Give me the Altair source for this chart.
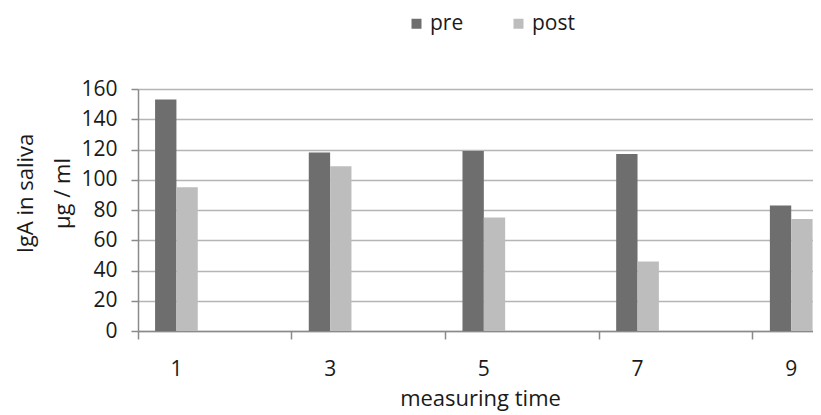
import altair as alt
import pandas as pd

# ---- data ----
times = ["1", "3", "5", "7", "9"]
pre = [153, 118, 119, 117, 83]
post = [95, 109, 75, 46, 74]
all_times = ["1", "2", "3", "4", "5", "6", "7", "8", "9"]   # even time points carry no bars
series = ["pre", "post"]
colors = ["#6e6e6e", "#bdbdbd"]
y_ticks = [0, 20, 40, 60, 80, 100, 120, 140, 160]
y_title = ["IgA in saliva", "µg / ml"]
x_title = "measuring time"

rows = []
for t, a, b in zip(times, pre, post):
    rows.append({"time": t, "series": "pre", "value": a})
    rows.append({"time": t, "series": "post", "value": b})
df = pd.DataFrame(rows)

FONT = "Open Sans"
TXT = "#1a1a1a"
band = 76.85
W = 675          # visible plot width (page is 821 wide incl. 8px margins)
H = 242

x_axis = alt.Axis(
    values=times,
    bandPosition=0,
    labelAngle=0,
    labelFont=FONT,
    labelFontSize=21,
    labelColor=TXT,
    labelPadding=19,
    tickSize=8,
    tickColor="#8a8a8a",
    tickWidth=1.5,
    domainColor="#8a8a8a",
    domainWidth=1.5,
    grid=False,
    title=x_title,
    titleFont=FONT,
    titleFontSize=22,
    titleFontWeight="normal",
    titleColor=TXT,
    titleX=342,
    titleY=74,
    titleBaseline="alphabetic",
    titleAlign="center",
)

y_axis = alt.Axis(
    values=y_ticks,
    labelFont=FONT,
    labelFontSize=21,
    labelColor=TXT,
    labelPadding=14,
    tickSize=7,
    tickColor="#8a8a8a",
    tickWidth=1.5,
    domainColor="#8a8a8a",
    domainWidth=1.5,
    grid=True,
    gridColor="#b5b5b5",
    gridWidth=1.5,
    title=y_title,
    titleFont=FONT,
    titleFontSize=22,
    titleFontWeight="normal",
    titleColor=TXT,
    titleAngle=270,
    titleX=-113,
    titleY=104,
    titleBaseline="middle",
    titleAlign="center",
    titleLineHeight=37,
)

chart = (
    alt.Chart(df)
    .mark_bar()
    .encode(
        x=alt.X(
            "time:N",
            sort=all_times,
            scale=alt.Scale(domain=all_times, range=[0, band * len(all_times)],
                            paddingInner=0, paddingOuter=0),
            axis=x_axis,
        ),
        xOffset=alt.XOffset(
            "series:N",
            sort=series,
            scale=alt.Scale(domain=series, paddingInner=0, paddingOuter=0.8),
        ),
        y=alt.Y(
            "value:Q",
            scale=alt.Scale(domain=[0, 160], nice=False),
            axis=y_axis,
        ),
        color=alt.Color(
            "series:N",
            sort=series,
            scale=alt.Scale(domain=series, range=colors),
            legend=alt.Legend(
                orient="none",
                legendX=268,
                legendY=-76,
                direction="horizontal",
                title=None,
                symbolType="square",
                symbolSize=100,
                symbolStrokeWidth=0,
                labelFont=FONT,
                labelFontSize=21,
                labelColor=TXT,
                labelOffset=3,
                columnPadding=44,
            ),
        ),
    )
    .properties(
        width=W,
        height=H,
        autosize=alt.AutoSizeParams(type="none"),
        padding={"left": 130, "top": 81, "right": 0, "bottom": 90},
        background="white",
    )
    .configure_view(stroke=None)
)

chart.save("out.html", embed_options={"renderer": "svg", "actions": False})
